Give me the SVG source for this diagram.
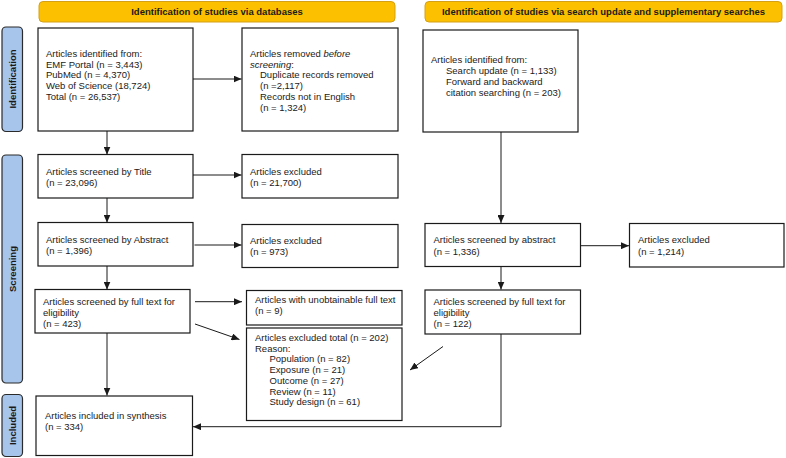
<svg xmlns="http://www.w3.org/2000/svg" width="786" height="458" viewBox="0 0 786 458">
<style>
.box{fill:#fff;stroke:#1a1a1a;stroke-width:1.2}
.hdr{fill:#fcc000;stroke:#d4a017;stroke-width:1}
.side{fill:#a7c5ea;stroke:#2b2b2b;stroke-width:1.2}
.t{font-family:"Liberation Sans",Arial,sans-serif;font-size:9.5px;fill:#1a1a1a}
.h{font-family:"Liberation Sans",Arial,sans-serif;font-size:9.5px;font-weight:bold;fill:#1a1a1a;text-anchor:middle}
.s{font-family:"Liberation Sans",Arial,sans-serif;font-size:9.5px;font-weight:bold;fill:#1a1a1a;text-anchor:middle}
.c{fill:none;stroke:#1a1a1a;stroke-width:1}
</style>
<defs>
<marker id="ah" markerUnits="userSpaceOnUse" markerWidth="8" markerHeight="7" refX="8" refY="3.5" orient="auto">
<path d="M0,0 L8,3.5 L0,7 z" fill="#1a1a1a"/>
</marker>
</defs>

<g id="header-db"><rect class="hdr" x="39" y="1.5" width="356" height="20.5" rx="4"/><text class="h" x="217" y="15">Identification of studies via databases</text></g>
<g id="header-other"><rect class="hdr" x="425" y="1.5" width="357" height="20.5" rx="4"/><text class="h" x="603.5" y="15">Identification of studies via search update and supplementary searches</text></g>

<g id="side-identification"><rect class="side" x="2" y="27" width="20.5" height="104.5" rx="4"/><text class="s" transform="translate(15.5,79) rotate(-90)">Identification</text></g>
<g id="side-screening"><rect class="side" x="2" y="155" width="20.5" height="228" rx="4"/><text class="s" transform="translate(15.5,269) rotate(-90)">Screening</text></g>
<g id="side-included"><rect class="side" x="2" y="394.5" width="20.5" height="62" rx="4"/><text class="s" transform="translate(15.5,425.5) rotate(-90)">Included</text></g>

<g id="identified-db"><rect class="box" x="38" y="28" width="155" height="103"/>
<text class="t" x="46" y="56.7">Articles identified from:</text>
<text class="t" x="46" y="67.5">EMF Portal (n = 3,443)</text>
<text class="t" x="46" y="78.3">PubMed (n = 4,370)</text>
<text class="t" x="46" y="89.1">Web of Science (18,724)</text>
<text class="t" x="46" y="99.9">Total (n = 26,537)</text></g>

<g id="removed"><rect class="box" x="242" y="28" width="156" height="103"/>
<text class="t" x="250" y="56.7">Articles removed <tspan font-style="italic">before</tspan></text>
<text class="t" x="250" y="67.5"><tspan font-style="italic">screening</tspan>:</text>
<text class="t" x="260" y="78.3">Duplicate records removed</text>
<text class="t" x="260" y="89.1">(n =2,117)</text>
<text class="t" x="260" y="99.9">Records not in English</text>
<text class="t" x="260" y="110.7">(n = 1,324)</text></g>

<g id="identified-other"><rect class="box" x="423" y="30" width="155" height="102"/>
<text class="t" x="431" y="63.3">Articles identified from:</text>
<text class="t" x="446" y="74.1">Search update (n = 1,133)</text>
<text class="t" x="446" y="84.9">Forward and backward</text>
<text class="t" x="446" y="95.7">citation searching (n = 203)</text></g>

<g id="title-screen"><rect class="box" x="38" y="154.5" width="155" height="43.5"/>
<text class="t" x="46" y="174.5">Articles screened by Title</text>
<text class="t" x="46" y="185.5">(n = 23,096)</text></g>

<g id="title-excluded"><rect class="box" x="242" y="154.5" width="156" height="43.5"/>
<text class="t" x="250" y="174.5">Articles excluded</text>
<text class="t" x="250" y="185.5">(n = 21,700)</text></g>

<g id="abstract-screen"><rect class="box" x="38" y="222.5" width="155" height="43.5"/>
<text class="t" x="46" y="242.5">Articles screened by Abstract</text>
<text class="t" x="46" y="253.5">(n = 1,396)</text></g>

<g id="abstract-excluded"><rect class="box" x="242" y="224.5" width="156" height="43"/>
<text class="t" x="250" y="244">Articles excluded</text>
<text class="t" x="250" y="255">(n = 973)</text></g>

<g id="fulltext-screen"><rect class="box" x="35" y="289.5" width="155" height="43.5"/>
<text class="t" x="43" y="305">Articles screened by full text for</text>
<text class="t" x="43" y="315.7">eligibility</text>
<text class="t" x="43" y="326.5">(n = 423)</text></g>

<g id="unobtainable"><rect class="box" x="246.5" y="290.5" width="155.5" height="34.5"/>
<text class="t" x="255" y="302.8">Articles with unobtainable full text</text>
<text class="t" x="255" y="313.5">(n = 9)</text></g>

<g id="excluded-total"><rect class="box" x="246.5" y="328" width="155.5" height="92.5"/>
<text class="t" x="255" y="341">Articles excluded total (n = 202)</text>
<text class="t" x="255" y="351.7">Reason:</text>
<text class="t" x="269.5" y="362.4">Population (n = 82)</text>
<text class="t" x="269.5" y="373.1">Exposure (n = 21)</text>
<text class="t" x="269.5" y="383.8">Outcome (n = 27)</text>
<text class="t" x="269.5" y="394.5">Review (n = 11)</text>
<text class="t" x="269.5" y="405.2">Study design (n = 61)</text></g>

<g id="included"><rect class="box" x="36" y="396" width="156.5" height="59.5"/>
<text class="t" x="45" y="419">Articles included in synthesis</text>
<text class="t" x="45" y="430">(n = 334)</text></g>

<g id="abstract-screen-other"><rect class="box" x="425" y="223.5" width="155.5" height="43"/>
<text class="t" x="433.5" y="243.3">Articles screened by abstract</text>
<text class="t" x="433.5" y="255">(n = 1,336)</text></g>

<g id="abstract-excluded-other"><rect class="box" x="629.5" y="223.5" width="154.5" height="43.5"/>
<text class="t" x="638" y="243.3">Articles excluded</text>
<text class="t" x="638" y="255">(n = 1,214)</text></g>

<g id="fulltext-screen-other"><rect class="box" x="425" y="290" width="155.5" height="44"/>
<text class="t" x="433.5" y="304.5">Articles screened by full text for</text>
<text class="t" x="433.5" y="315.5">eligibility</text>
<text class="t" x="433.5" y="326.5">(n = 122)</text></g>

<g id="connectors">
<line class="c" x1="193" y1="79" x2="241.5" y2="79" marker-end="url(#ah)"/>
<line class="c" x1="107" y1="131" x2="107" y2="154.5" marker-end="url(#ah)"/>
<line class="c" x1="193" y1="175" x2="241.5" y2="175" marker-end="url(#ah)"/>
<line class="c" x1="107" y1="198" x2="107" y2="222.5" marker-end="url(#ah)"/>
<line class="c" x1="194.5" y1="245" x2="241.5" y2="245" marker-end="url(#ah)"/>
<line class="c" x1="107" y1="266" x2="107" y2="289.5" marker-end="url(#ah)"/>
<line class="c" x1="195" y1="301.7" x2="242" y2="301.7" marker-end="url(#ah)"/>
<line class="c" x1="195" y1="324" x2="239.5" y2="339.5" marker-end="url(#ah)"/>
<line class="c" x1="107" y1="333" x2="107" y2="395.5" marker-end="url(#ah)"/>
<line class="c" x1="501" y1="132" x2="501" y2="223" marker-end="url(#ah)"/>
<line class="c" x1="580.5" y1="245.7" x2="629" y2="245.7" marker-end="url(#ah)"/>
<line class="c" x1="501" y1="266.5" x2="501" y2="289.5" marker-end="url(#ah)"/>
<line class="c" x1="443" y1="346.5" x2="410" y2="370" marker-end="url(#ah)"/>
<polyline class="c" points="501,334 501,426.7 193,426.7" marker-end="url(#ah)"/>
</g>
</svg>
